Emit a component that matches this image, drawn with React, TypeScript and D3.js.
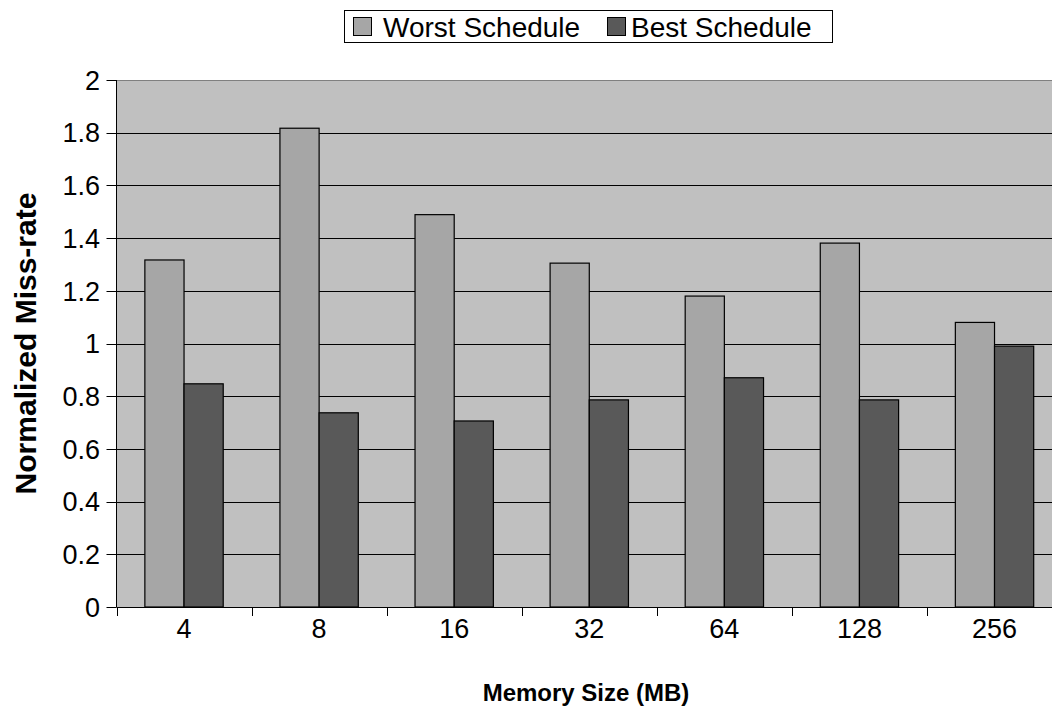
import React from "react";
import * as d3 from "d3";

const categories = ["4", "8", "16", "32", "64", "128", "256"];
const worstSchedule = [1.317, 1.817, 1.489, 1.305, 1.18, 1.381, 1.08];
const bestSchedule = [0.847, 0.737, 0.706, 0.786, 0.87, 0.786, 0.99];
const seriesNames = ["Worst Schedule", "Best Schedule"];
const seriesColors = ["#a6a6a6", "#595959"];
const yTicks = [0, 0.2, 0.4, 0.6, 0.8, 1, 1.2, 1.4, 1.6, 1.8, 2];

const W = 1052;
const H = 717;
const left = 116.5;
const top = 80;
const bottom = 607;
const right = left + 135.08 * 7;
const FONT = "'Liberation Sans', Arial, sans-serif";

export default function App() {
  const x = d3.scaleBand<string>().domain(categories).range([left, right]).paddingInner(0).paddingOuter(0);
  const y = d3.scaleLinear().domain([0, 2]).range([bottom, top]);
  const bw = x.bandwidth();
  const barW = bw * 0.29;
  const series = [worstSchedule, bestSchedule];
  const legendSwatchX = [353, 607];
  const legendTextX = [383, 631];

  return (
    <svg
      width={W}
      height={H}
      style={{ position: "absolute", left: 0, top: 0, background: "#fff" }}
      fontFamily={FONT}
    >
      <rect x={left} y={top} width={right - left} height={bottom - top} fill="#c0c0c0" />
      {yTicks.map((t) => (
        <g key={t}>
          {t > 0 && (
            <line x1={left} x2={right} y1={Math.round(y(t)) + 0.5} y2={Math.round(y(t)) + 0.5} stroke={t === 2 ? "#808080" : "#000"} strokeWidth={1} />
          )}
          <line x1={left - 10} x2={left} y1={Math.round(y(t)) + 0.5} y2={Math.round(y(t)) + 0.5} stroke="#000" />
          <text x={100} y={y(t)} dy="0.36em" textAnchor="end" fontSize={27}>
            {String(t)}
          </text>
        </g>
      ))}
      {series.map((vals, si) =>
        categories.map((c, i) => {
          const cx = (x(c) as number) + bw / 2;
          const x0 = si === 0 ? cx - barW : cx;
          return (
            <rect
              key={si + "-" + c}
              x={x0}
              y={y(vals[i])}
              width={barW}
              height={bottom - y(vals[i])}
              fill={seriesColors[si]}
              stroke="#000"
              strokeWidth={1.2}
            />
          );
        })
      )}
      <line x1={left} x2={left} y1={top} y2={bottom} stroke="#000" />
      <line x1={left} x2={right} y1={bottom + 0.5} y2={bottom + 0.5} stroke="#000" />
      {categories.map((c) => (
        <line key={"t" + c} x1={Math.round(x(c) as number) + 0.5} x2={Math.round(x(c) as number) + 0.5} y1={bottom} y2={bottom + 9} stroke="#000" />
      ))}
      {categories.map((c) => (
        <text key={"l" + c} x={(x(c) as number) + bw / 2} y={638} textAnchor="middle" fontSize={27}>
          {c}
        </text>
      ))}
      <text x={586} y={701} textAnchor="middle" fontSize={24} fontWeight="bold">
        Memory Size (MB)
      </text>
      <text transform={`translate(36, ${(top + bottom) / 2}) rotate(-90)`} textAnchor="middle" fontSize={30} fontWeight="bold">
        Normalized Miss-rate
      </text>
      <g>
        <rect x={344.5} y={10.5} width={488} height={32} fill="#fff" stroke="#000" />
        {seriesNames.map((n, i) => (
          <g key={n}>
            <rect x={legendSwatchX[i] + 0.5} y={17.5} width={18} height={18} fill={seriesColors[i]} stroke="#000" />
            <text x={legendTextX[i]} y={26.5} dy="0.36em" fontSize={28}>
              {n}
            </text>
          </g>
        ))}
      </g>
    </svg>
  );
}
